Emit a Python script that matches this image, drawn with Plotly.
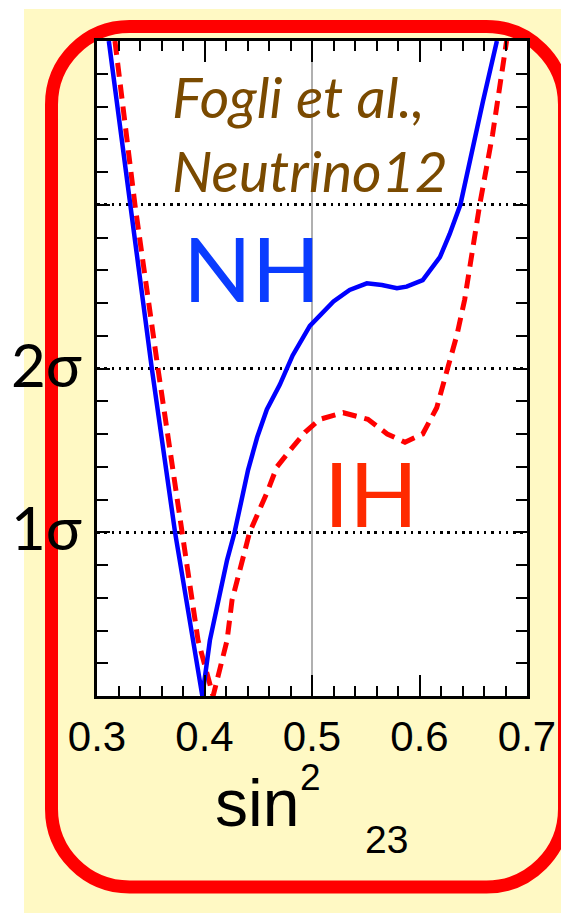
import plotly.graph_objects as go

# ---- data ----
nh_x = [0.311, 0.331, 0.351, 0.3726, 0.3768, 0.389, 0.398, 0.405, 0.4126, 0.421, 0.428,
        0.4405, 0.449, 0.458, 0.470, 0.482, 0.498, 0.520, 0.535, 0.551, 0.565, 0.579, 0.588,
        0.603, 0.619, 0.628, 0.638, 0.650, 0.659, 0.672]
nh_y = [4.0, 3.0, 2.0, 1.0, 0.83, 0.34, 0.0, 0.34, 0.585, 0.83, 1.0,
        1.38, 1.58, 1.75, 1.90, 2.08, 2.26, 2.41, 2.48, 2.52, 2.51, 2.49, 2.50,
        2.54, 2.68, 2.82, 3.0, 3.37, 3.63, 4.0]

ih_x = [0.3167, 0.3353, 0.3567, 0.379, 0.383, 0.394, 0.408, 0.421, 0.4256, 0.435, 0.442,
        0.458, 0.4674, 0.482, 0.4935, 0.5074, 0.529, 0.552, 0.570, 0.5865, 0.603, 0.616,
        0.6265, 0.635, 0.642, 0.656, 0.668, 0.681]
ih_y = [4.0, 3.0, 2.0, 1.0, 0.83, 0.34, 0.0, 0.34, 0.585, 0.83, 1.0,
        1.24, 1.40, 1.52, 1.61, 1.69, 1.73, 1.69, 1.60, 1.55, 1.60, 1.76,
        2.0, 2.21, 2.42, 3.0, 3.43, 4.0]

x_tickvals = [0.3, 0.4, 0.5, 0.6, 0.7]
x_ticktext = ["0.3", "0.4", "0.5", "0.6", "0.7"]
y_tickvals = [0, 1, 2, 3, 4]
y_label_vals = [1, 2]
y_label_text = ["1σ", "2σ"]

# ---- layout helpers (page pixel -> paper); page body has an 8px margin ----
OFF = 8
W, H = 569 - OFF, 913 - OFF
L, R, T, B = 97 - OFF, 42, 41 - OFF, 217
PW, PH = W - L - R, H - T - B


def px(x):
    return (x - OFF - L) / PW


def py(y):
    return (H - B - (y - OFF)) / PH


fig = go.Figure()

fig.add_trace(go.Scatter(x=ih_x, y=ih_y, mode="lines", name="IH",
                         line=dict(color="#ff0000", width=5, dash="14px,8px"),
                         showlegend=False))
fig.add_trace(go.Scatter(x=nh_x, y=nh_y, mode="lines", name="NH",
                         line=dict(color="#0000ff", width=4.5),
                         showlegend=False))

shapes = []
# yellow panel
shapes.append(dict(type="rect", xref="paper", yref="paper", layer="below",
                   x0=px(24), x1=px(600), y0=py(940), y1=py(9),
                   fillcolor="#fff9c4", line=dict(width=0)))
# red rounded frame
x0, x1, y0, y1, r = 51.5, 564.5, 26.5, 887, 78
k = 0.5523 * r
pts = [
    ("M", [(x0 + r, y0)]),
    ("L", [(x1 - r, y0)]),
    ("C", [(x1 - r + k, y0), (x1, y0 + r - k), (x1, y0 + r)]),
    ("L", [(x1, y1 - r)]),
    ("C", [(x1, y1 - r + k), (x1 - r + k, y1), (x1 - r, y1)]),
    ("L", [(x0 + r, y1)]),
    ("C", [(x0 + r - k, y1), (x0, y1 - r + k), (x0, y1 - r)]),
    ("L", [(x0, y0 + r)]),
    ("C", [(x0, y0 + r - k), (x0 + r - k, y0), (x0 + r, y0)]),
]
path = ""
for cmd, ps in pts:
    path += cmd + " " + " ".join(f"{px(a):.5f},{py(b):.5f}" for a, b in ps) + " "
path += "Z"
shapes.append(dict(type="path", xref="paper", yref="paper", layer="below", path=path,
                   line=dict(color="#ff0000", width=13), fillcolor="rgba(0,0,0,0)"))
# white plot area
shapes.append(dict(type="rect", xref="paper", yref="paper", layer="below",
                   x0=0, x1=1, y0=0, y1=1, fillcolor="white", line=dict(width=0)))
# grey reference line at maximal mixing
shapes.append(dict(type="line", xref="x", yref="paper", layer="below",
                   x0=0.5, x1=0.5, y0=0, y1=1, line=dict(color="#b0b0b0", width=2)))

annotations = [
    dict(text="<i>Fogli et al.,<br>Neutrino12</i>", xref="paper", yref="paper",
         x=px(170), y=py(60), xanchor="left", yanchor="top", align="left", showarrow=False,
         font=dict(family="Lato", size=57, color="#7a4a00")),
    dict(text="NH", xref="paper", yref="paper", x=px(181), y=py(267),
         xanchor="left", yanchor="middle", showarrow=False,
         font=dict(family="Lato", size=90, color="#0a3cff")),
    dict(text="IH", xref="paper", yref="paper", x=px(322), y=py(492),
         xanchor="left", yanchor="middle", showarrow=False,
         font=dict(family="Lato", size=90, color="#ff2a00")),
    dict(text="sin", xref="paper", yref="paper",
         x=px(213), y=py(803), xanchor="left", yanchor="middle", showarrow=False,
         font=dict(family="Liberation Sans", size=66, color="black")),
    dict(text="2", xref="paper", yref="paper",
         x=px(298), y=py(777), xanchor="left", yanchor="middle", showarrow=False,
         font=dict(family="Liberation Sans", size=37, color="black")),
    dict(text="23", xref="paper", yref="paper", x=px(363), y=py(839),
         xanchor="left", yanchor="middle", showarrow=False,
         font=dict(family="Liberation Sans", size=39, color="black")),
]
for v, t in zip(y_label_vals, y_label_text):
    annotations.append(dict(text=t, xref="paper", yref="y", x=px(84), y=v, yshift=5,
                            xanchor="right", yanchor="middle", showarrow=False,
                            font=dict(family="Lato", size=60, color="black")))

fig.update_layout(
    width=W, height=H,
    margin=dict(l=L, r=R, t=T, b=B, autoexpand=False),
    paper_bgcolor="white", plot_bgcolor="white",
    shapes=shapes, annotations=annotations,
    showlegend=False,
)

fig.update_xaxes(
    range=[0.3, 0.7], tickmode="array", tickvals=x_tickvals, ticktext=x_ticktext,
    showline=True, linecolor="black", linewidth=2.5, mirror="ticks",
    ticks="inside", ticklen=21, tickwidth=2, tickcolor="black",
    showgrid=False, zeroline=False, automargin=False,
    tickfont=dict(family="Liberation Sans", size=42, color="black"),
    ticklabelstandoff=2,
    minor=dict(tickmode="linear", tick0=0.3, dtick=0.02, ticks="inside", ticklen=10,
               tickwidth=2, tickcolor="black", showgrid=False),
)
fig.update_yaxes(
    range=[0, 4], tickmode="array", tickvals=y_tickvals, showticklabels=False,
    showline=True, linecolor="black", linewidth=2.5, mirror="ticks",
    ticks="inside", ticklen=13, tickwidth=2, tickcolor="black",
    showgrid=True, gridcolor="black", gridwidth=2.5, griddash="2.5px,4.8px",
    zeroline=False, automargin=False,
    minor=dict(tickmode="linear", tick0=0, dtick=0.2, ticks="inside", ticklen=11,
               tickwidth=2, tickcolor="black", showgrid=False),
)

fig.write_html("out.html")
